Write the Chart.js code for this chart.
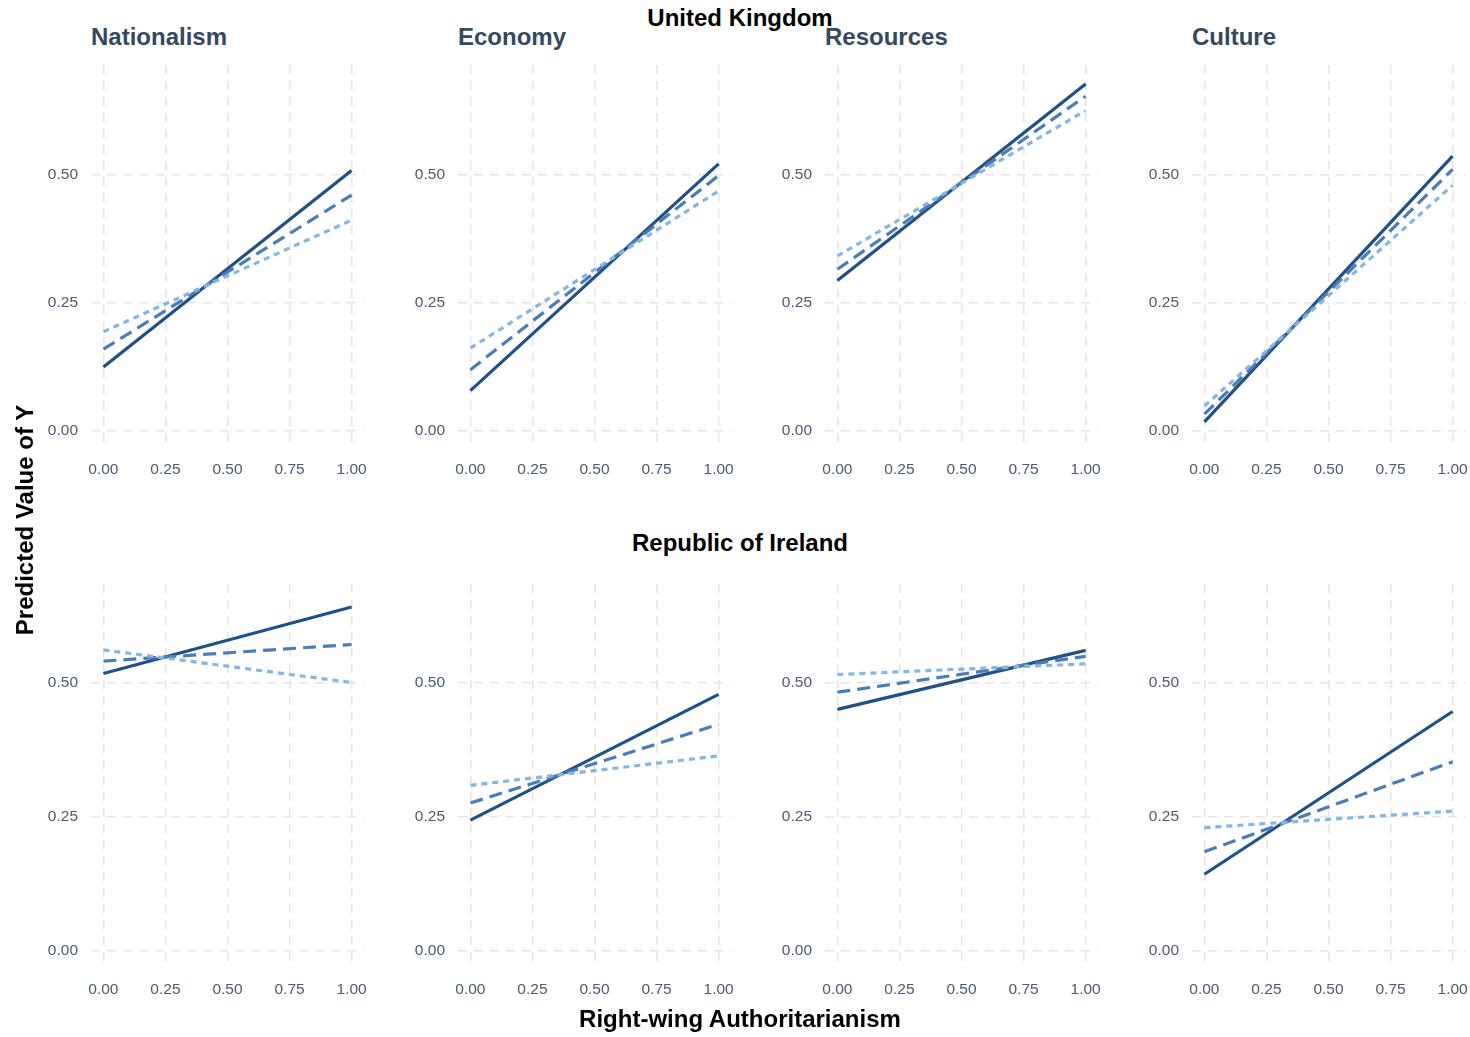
<!DOCTYPE html>
<html>
<head>
<meta charset="utf-8">
<script src="https://cdn.jsdelivr.net/npm/chart.js@4/dist/chart.umd.min.js"></script>
<style>
  html, body { margin: 0; padding: 0; background: #ffffff; }
  body { width: 1470px; height: 1037px; position: relative; overflow: hidden;
         font-family: "Liberation Sans", Arial, Helvetica, sans-serif; }
  canvas { position: absolute; }
  .lbl { position: absolute; white-space: nowrap; font-weight: bold; font-size: 24px; line-height: 24px; }
  .row-title { color: #000000; width: 600px; text-align: center; }
  .panel-title { color: #34495e; }
  .ytitle { color: #000000; width: 320px; text-align: center; transform: rotate(-90deg); }
</style>
</head>
<body>
<script>
// Right-wing authoritarianism values at which predictions are shown
const rwaPoints = [0, 1];
const rwaTicks = [0, 0.25, 0.5, 0.75, 1];
const yTicks = [0, 0.25, 0.5];
const topics = ['Nationalism', 'Economy', 'Resources', 'Culture'];
const countries = ['United Kingdom', 'Republic of Ireland'];

// Predicted values [at RWA = 0, at RWA = 1], one pair per topic
const ukSolid   = [[0.125, 0.509], [0.079, 0.522], [0.294, 0.678], [0.018, 0.537]];
const ukDashed  = [[0.160, 0.461], [0.120, 0.499], [0.316, 0.654], [0.033, 0.511]];
const ukDotted  = [[0.194, 0.412], [0.162, 0.469], [0.342, 0.626], [0.049, 0.480]];
const roiSolid  = [[0.518, 0.642], [0.244, 0.479], [0.451, 0.561], [0.143, 0.447]];
const roiDashed = [[0.541, 0.572], [0.276, 0.423], [0.483, 0.550], [0.185, 0.353]];
const roiDotted = [[0.562, 0.501], [0.309, 0.364], [0.516, 0.536], [0.230, 0.261]];

const rows = [
  { solid: ukSolid, dashed: ukDashed, dotted: ukDotted, yMin: -0.033, yMax: 0.715, top: 65, bottom: 448 },
  { solid: roiSolid, dashed: roiDashed, dotted: roiDotted, yMin: -0.032, yMax: 0.685, top: 584, bottom: 968 }
];

const styles = {
  solid:  { color: '#1f5186', dash: [] },
  dashed: { color: '#4b7db4', dash: [13, 7] },
  dotted: { color: '#84b6e4', dash: [6, 5] }
};

const colStep = 367, firstLeft = 91, plotW = 273;
const yAxisW = 70, xAxisH = 40, padTop = 10, padRight = 22;

function addLabel(text, cls, left, top) {
  const d = document.createElement('div');
  d.className = 'lbl ' + cls;
  d.textContent = text;
  d.style.left = left + 'px';
  d.style.top = top + 'px';
  document.body.appendChild(d);
  return d;
}

function toSeries(pair) {
  return rwaPoints.map((x, i) => ({ x: x, y: pair[i] }));
}

rows.forEach((row, r) => {
  topics.forEach((topic, c) => {
    const plotLeft = firstLeft + colStep * c;
    const plotH = row.bottom - row.top;
    const cv = document.createElement('canvas');
    const w = yAxisW + plotW + padRight;
    const h = padTop + plotH + xAxisH;
    cv.width = w; cv.height = h;
    cv.style.width = w + 'px'; cv.style.height = h + 'px';
    cv.style.left = (plotLeft - yAxisW) + 'px';
    cv.style.top = (row.top - padTop) + 'px';
    document.body.appendChild(cv);

    const datasets = ['dotted', 'dashed', 'solid'].map(k => ({
      label: k,
      data: toSeries(row[k][c]),
      borderColor: styles[k].color,
      borderDash: styles[k].dash,
      borderWidth: 3.2,
      pointRadius: 0,
      fill: false,
      tension: 0
    }));

    const tickFont = { family: '"Liberation Sans", Arial, sans-serif', size: 15.5 };
    const gridOpts = { color: '#e6e6e6', lineWidth: 1.6, drawTicks: false };

    new Chart(cv, {
      type: 'line',
      data: { datasets: datasets },
      options: {
        responsive: false,
        animation: false,
        devicePixelRatio: 1,
        layout: { padding: { top: padTop, right: padRight, left: 0, bottom: 0 } },
        plugins: { legend: { display: false }, tooltip: { enabled: false } },
        scales: {
          x: {
            type: 'linear', min: -0.05, max: 1.05,
            afterBuildTicks: s => { s.ticks = rwaTicks.map(v => ({ value: v })); },
            afterFit: s => { s.height = xAxisH; },
            ticks: { font: tickFont, color: '#4a5b6e', padding: 12, maxRotation: 0,
                     callback: v => Number(v).toFixed(2) },
            grid: gridOpts,
            border: { display: false, dash: [9, 7] }
          },
          y: {
            type: 'linear', min: row.yMin, max: row.yMax,
            afterBuildTicks: s => { s.ticks = yTicks.map(v => ({ value: v })); },
            afterFit: s => { s.width = yAxisW; s.paddingTop = 0; s.paddingBottom = 0; },
            ticks: { font: tickFont, color: '#4a5b6e', padding: 13,
                     callback: v => Number(v).toFixed(2) },
            grid: gridOpts,
            border: { display: false, dash: [9, 7] }
          }
        }
      }
    });

    if (r === 0) addLabel(topic, 'panel-title', plotLeft, 24.7);
  });
});

addLabel(countries[0], 'row-title', 440, 5.7);
addLabel(countries[1], 'row-title', 440, 531.4);
addLabel('Right-wing Authoritarianism', 'row-title', 440, 1007);
addLabel('Predicted Value of Y', 'ytitle', 24.7 - 160, 520 - 12);
</script>
</body>
</html>
